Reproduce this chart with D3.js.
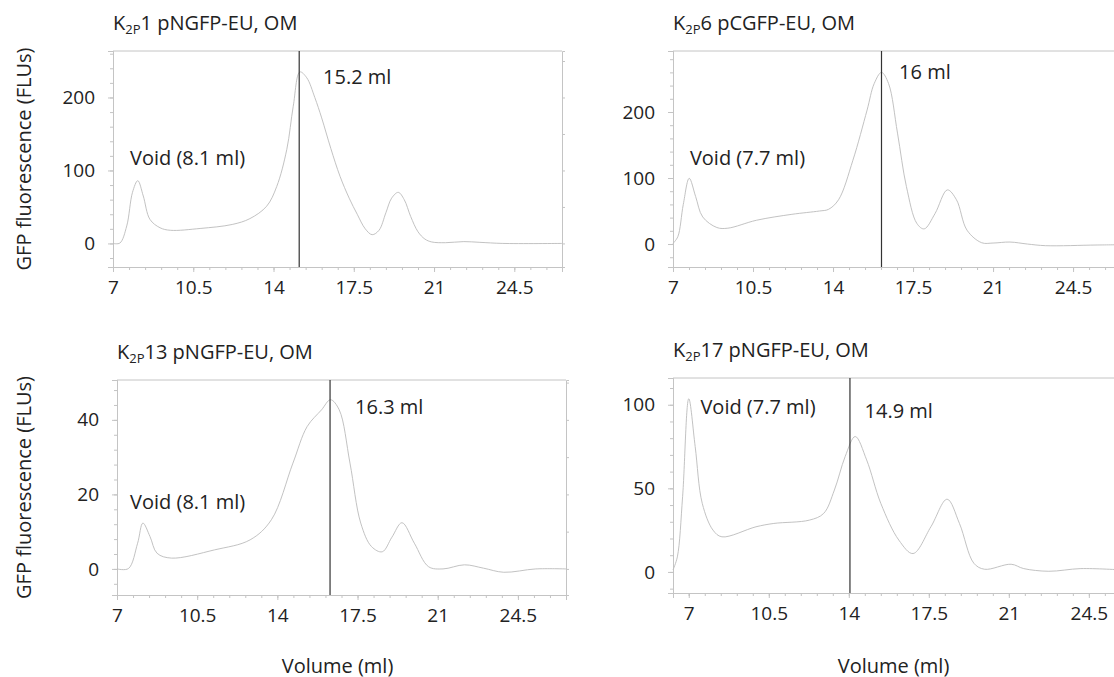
<!DOCTYPE html>
<html>
<head>
<meta charset="utf-8">
<script src="https://cdn.jsdelivr.net/npm/d3@7"></script>
<style>
body { margin: 0; background: #fff; }
svg { display: block; font-family: "Open Sans", sans-serif; }
.axis path, .axis line { stroke: #c4c4c4; }
.axis text { fill: #222; font-size: 19px; font-family: "Open Sans", sans-serif; }
.label { fill: #222; font-size: 20px; }
</style>
</head>
<body>
<svg width="1114" height="677"></svg>
<script>
// values
const volumeTicks = [7, 10.5, 14, 17.5, 21, 24.5]

const k2p1Volume = [7.0, 7.3, 7.6, 7.85, 8.08, 8.32, 8.61, 9.05, 9.5, 10.8, 12.2, 12.97, 13.7, 14.14, 14.58, 14.86, 15.15, 15.45, 15.8, 16.1, 16.5, 16.9, 17.3, 17.65, 18.0, 18.3, 18.6, 18.9, 19.15, 19.44, 19.7, 19.98, 20.3, 20.6, 20.9, 21.5, 22.3, 23.0, 24.0, 26.58]
const k2p1Flu    = [0, 0.5, 24, 70, 86, 65, 33, 21.5, 18, 20.5, 26, 34, 51, 78, 129, 188, 235, 227, 200, 172, 130, 92, 62, 40, 20, 12, 18, 42, 62, 70, 60, 37, 16, 6, 2, 1, 2.5, 1.5, 0, 0]

const k2p6Volume = [7.0, 7.21, 7.45, 7.71, 7.99, 8.3, 8.92, 9.4, 10.65, 12.2, 13.4, 13.8, 14.24, 14.87, 15.49, 15.8, 16.12, 16.43, 16.82, 17.21, 17.67, 17.99, 18.46, 19.0, 19.4, 19.86, 20.5, 21.0, 21.74, 22.5, 23.3, 25.5, 26.64]
const k2p6Flu    = [1, 11, 60, 99.5, 72, 41, 25, 24, 36, 45, 50, 52.5, 67, 127, 203, 243, 260, 243, 168, 87, 31, 23, 46, 82, 67, 21, 2, 1.5, 3, 0, -2.5, -1.5, -1]

const k2p13Volume = [7.0, 7.5, 7.9, 8.13, 8.44, 8.75, 9.38, 11.25, 12.81, 13.74, 14.68, 15.3, 15.93, 16.32, 16.7, 17.17, 17.64, 18.11, 18.58, 19.0, 19.44, 19.98, 20.6, 21.23, 22.17, 23.0, 23.88, 25.28, 26.6]
const k2p13Flu    = [0, 0.1, 6.9, 12.3, 8.7, 4.2, 2.9, 5.1, 7.8, 13.2, 28.4, 38.2, 42.7, 45.4, 42.7, 28.4, 12.3, 6, 4.6, 8.5, 12.4, 6.9, 0.6, 0, 1.1, 0.2, -0.9, 0, 0]

const k2p17Volume = [6.31, 6.5, 6.73, 7.0, 7.28, 7.59, 8.06, 8.45, 9.94, 10.72, 12.28, 12.9, 13.37, 13.84, 14.28, 14.78, 15.4, 16.19, 16.81, 17.59, 18.3, 18.84, 19.47, 19.94, 21.1, 21.65, 22.75, 24.15, 25.95]
const k2p17Flu    = [1.2, 9, 45, 103.6, 75, 41, 25, 21, 27, 29, 31, 35, 49, 69, 81, 67, 41, 19, 11, 27, 43.5, 29, 5.2, 1.6, 4.6, 2, 0.4, 2, 1.2]

const channelNums  = ["1", "6", "13", "17"]
const constructs   = [" pNGFP-EU, OM", " pCGFP-EU, OM", " pNGFP-EU, OM", " pNGFP-EU, OM"]
const peakMarks    = [15.12, 16.12, 16.3, 14.05]
const peakLabels   = ["15.2 ml", "16 ml", "16.3 ml", "14.9 ml"]
const voidLabels   = ["Void (8.1 ml)", "Void (7.7 ml)", "Void (8.1 ml)", "Void (7.7 ml)"]
const yTickSets    = [[0, 100, 200], [0, 100, 200], [0, 20, 40], [0, 50, 100]]

const svg = d3.select("svg")

const panels = [
  {vol: k2p1Volume, flu: k2p1Flu, left: 113, top: 51, width: 449, height: 216,
   xDomain: [7, 26.58], yDomain: [-32.3, 263.7], voidAt: [7.74, 118], peakAt: [16.16, 229], yTitle: true, xTitle: false},
  {vol: k2p6Volume, flu: k2p6Flu, left: 673, top: 51, width: 449, height: 216,
   xDomain: [7, 26.64], yDomain: [-34.8, 292.4], voidAt: [7.74, 131], peakAt: [16.89, 261], yTitle: false, xTitle: false},
  {vol: k2p13Volume, flu: k2p13Flu, left: 117, top: 380, width: 449, height: 215,
   xDomain: [7, 26.6], yDomain: [-7, 50.7], voidAt: [7.57, 18.1], peakAt: [17.39, 43.6], yTitle: true, xTitle: true},
  {vol: k2p17Volume, flu: k2p17Flu, left: 673, top: 378, width: 449, height: 215,
   xDomain: [6.31, 25.95], yDomain: [-12.6, 116], voidAt: [7.51, 99], peakAt: [14.69, 96.5], yTitle: false, xTitle: true}
]

panels.forEach((p, i) => {
  const x = d3.scaleLinear().domain(p.xDomain).range([0, p.width])
  const y = d3.scaleLinear().domain(p.yDomain).range([p.height, 0])
  const g = svg.append("g").attr("transform", `translate(${p.left}, ${p.top})`)

  const yTicks = yTickSets[i]
  const yStep = yTicks[1] - yTicks[0]

  // minor ticks
  const xMinor = d3.range(7, p.xDomain[1], 0.7)
  const xMinorLeft = d3.range(7, p.xDomain[0], -0.7)
  g.append("g").attr("class", "axis")
    .attr("transform", `translate(0, ${p.height})`)
    .call(d3.axisBottom(x).tickValues(xMinor.concat(xMinorLeft)).tickSize(3).tickFormat(""))
  g.append("g").attr("class", "axis")
    .call(d3.axisLeft(y).tickValues(d3.range(Math.ceil(p.yDomain[0] / (yStep / 5)) * (yStep / 5), p.yDomain[1], yStep / 5)).tickSize(3).tickFormat(""))
  g.append("g").attr("class", "axis")
    .attr("transform", `translate(${p.width}, 0)`)
    .call(d3.axisRight(y).tickValues(d3.range(Math.ceil(p.yDomain[0] / (yStep / 2)) * (yStep / 2), p.yDomain[1], yStep / 2)).tickSize(3).tickFormat(""))

  // frame top
  g.append("line")
    .attr("x1", 0).attr("x2", p.width).attr("y1", 0).attr("y2", 0)
    .attr("stroke", "#c4c4c4")

  g.append("g").attr("class", "axis")
    .attr("transform", `translate(0, ${p.height})`)
    .call(d3.axisBottom(x).tickValues(volumeTicks).tickSize(5).tickPadding(9).tickFormat(d => d))

  g.append("g").attr("class", "axis")
    .call(d3.axisLeft(y).tickValues(yTicks).tickSize(5).tickPadding(13).tickFormat(d => d))

  const pts = p.vol.map((v, k) => [v, p.flu[k]])
  g.append("path")
    .datum(pts)
    .attr("fill", "none")
    .attr("stroke", "#bbb")
    .attr("stroke-width", 0.9)
    .attr("d", d3.line().x(d => x(d[0])).y(d => y(d[1])).curve(d3.curveCatmullRom.alpha(0.5)))

  g.append("line")
    .attr("x1", x(peakMarks[i])).attr("x2", x(peakMarks[i]))
    .attr("y1", 0).attr("y2", p.height)
    .attr("stroke", "#333").attr("stroke-width", 1.2)

  g.append("text").attr("class", "label")
    .attr("x", x(p.voidAt[0])).attr("y", y(p.voidAt[1]))
    .attr("dominant-baseline", "central")
    .text(voidLabels[i])

  g.append("text").attr("class", "label")
    .attr("x", x(p.peakAt[0])).attr("y", y(p.peakAt[1]))
    .attr("dominant-baseline", "central")
    .text(peakLabels[i])

  // title with subscript
  const t = svg.append("text").attr("class", "label")
    .attr("x", p.left).attr("y", p.top - 21)
  t.append("tspan").text("K")
  t.append("tspan").attr("font-size", "13px").attr("dy", 4).text("2P")
  t.append("tspan").attr("dy", -4).text(channelNums[i] + constructs[i])

  if (p.yTitle) {
    svg.append("text").attr("class", "label")
      .attr("transform", `translate(23, ${p.top + p.height / 2}) rotate(-90)`)
      .attr("text-anchor", "middle")
      .attr("dominant-baseline", "central")
      .text("GFP fluorescence (FLUs)")
  }
  if (p.xTitle) {
    svg.append("text").attr("class", "label")
      .attr("x", p.left + p.width / 2 - 4).attr("y", 665)
      .attr("text-anchor", "middle")
      .attr("dominant-baseline", "central")
      .text("Volume (ml)")
  }
})
</script>
</body>
</html>
